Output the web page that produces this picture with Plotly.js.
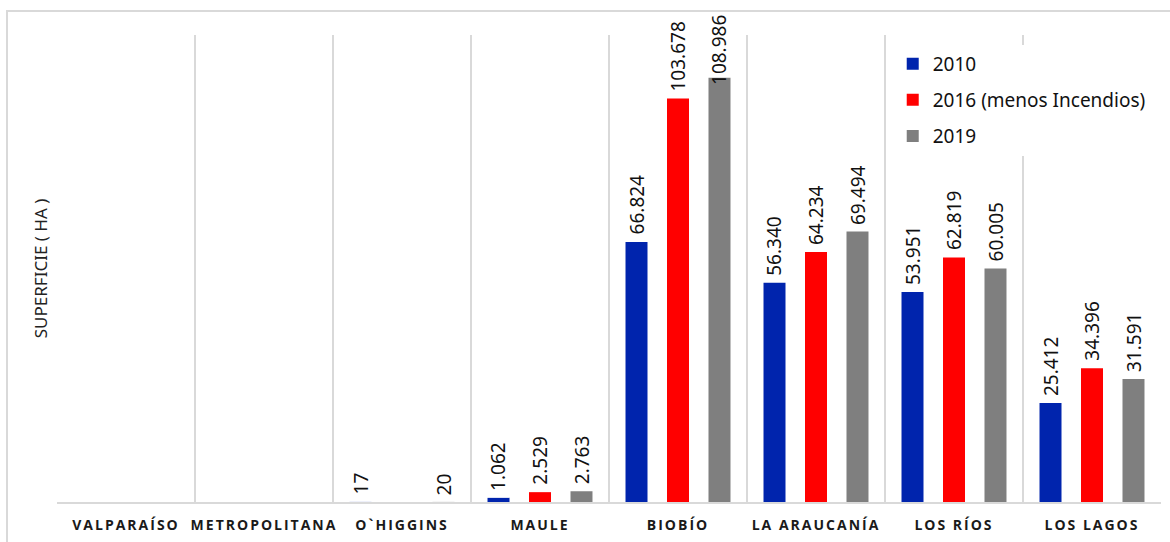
<!DOCTYPE html>
<html>
<head>
<meta charset="utf-8">
<script src="https://cdn.plot.ly/plotly-3.0.1.min.js"></script>
<style>
  html, body { margin: 0; padding: 0; background: #ffffff; overflow: hidden; }
  #chart { width: 1170px; height: 542px; position: absolute; left: 0; top: 0; }
  #frame { position: absolute; left: 6px; top: 10px; width: 1200px; height: 600px;
           border: 2px solid #d9d9d9; pointer-events: none; }
  .xtick text { letter-spacing: 2px; }
</style>
</head>
<body>
<div id="chart"></div>
<div id="frame"></div>
<script>
// Superficie por región (ha)
const regions = ["VALPARAÍSO", "METROPOLITANA", "O`HIGGINS", "MAULE", "BIOBÍO", "LA ARAUCANÍA", "LOS RÍOS", "LOS LAGOS"];
const sup2010 = [null, null, 17, 1062, 66824, 56340, 53951, 25412];
const sup2016 = [null, null, null, 2529, 103678, 64234, 62819, 34396];
const sup2019 = [null, null, 20, 2763, 108986, 69494, 60005, 31591];

const seriesNames = ["2010", "2016 (menos Incendios)", "2019"];
const seriesColors = ["#0024ad", "#ff0000", "#7f7f7f"];
const seriesValues = [sup2010, sup2016, sup2019];

const W = 1170, H = 542;
const MARGIN = { l: 57, r: 9, t: 35, b: 40 };
const Y_MAX = 120000;
const BARGAP = 0.098;
const labelFont = { family: "Noto Sans, Open Sans, sans-serif", size: 19, color: "#111111" };

const traces = seriesValues.map((vals, i) => ({
  type: "bar",
  name: seriesNames[i],
  x: regions,
  y: vals,
  marker: { color: seriesColors[i] },
  cliponaxis: false,
  legendgroup: "g" + i,
  hoverinfo: "x+y+name"
}));

// Rotated value labels above each bar, placed at the bar's slot within its group.
// A label that would run past the top of the frame is pulled down onto its bar.
const plotH = H - MARGIN.t - MARGIN.b;
const slot = (1 - BARGAP) / seriesValues.length;
const fmt = v => v.toString().replace(/\B(?=(\d{3})+(?!\d))/g, ".");
const annotations = [];
seriesValues.forEach((vals, i) => {
  const offset = (i - (seriesValues.length - 1) / 2) * slot;
  vals.forEach((v, j) => {
    if (v === null) return;
    const text = fmt(v);
    const estLen = text.length * 0.5 * labelFont.size + 6;
    const barPx = v / Y_MAX * plotH;
    const room = plotH + MARGIN.t - 14 - barPx - estLen;
    annotations.push({
      xref: "x", yref: "y",
      x: j + offset, y: v,
      text: text,
      textangle: -90,
      xanchor: "center", yanchor: "bottom",
      yshift: Math.min(5, room),
      showarrow: false,
      font: labelFont
    });
  });
});

const layout = {
  width: W,
  height: H,
  margin: MARGIN,
  paper_bgcolor: "rgba(0,0,0,0)",
  plot_bgcolor: "#ffffff",
  barmode: "group",
  bargap: BARGAP,
  bargroupgap: 0.47,
  showlegend: true,
  legend: {
    x: 0.757, xanchor: "left",
    y: 0.979, yanchor: "top",
    bgcolor: "#ffffff",
    font: { family: "Noto Sans, Open Sans, sans-serif", size: 19, color: "#111111" },
    tracegroupgap: 8.5,
    itemwidth: 30
  },
  annotations: annotations,
  xaxis: {
    type: "category",
    tickson: "boundaries",
    showgrid: true,
    gridcolor: "#d9d9d9",
    gridwidth: 1.5,
    showline: true,
    linecolor: "#d9d9d9",
    linewidth: 1.5,
    ticks: "",
    ticklabelstandoff: 10,
    tickfont: { family: "Open Sans, sans-serif", size: 14, weight: "bold", color: "#1a1a1a" },
    fixedrange: true
  },
  yaxis: {
    range: [0, Y_MAX],
    showgrid: false,
    zeroline: false,
    showticklabels: false,
    ticks: "",
    title: {
      text: "SUPERFICIE ( HA )",
      standoff: 4,
      font: { family: "Noto Sans, Open Sans, sans-serif", size: 17, color: "#222222" }
    },
    fixedrange: true
  }
};

Plotly.newPlot("chart", traces, layout, { displayModeBar: false, staticPlot: true });
</script>
</body>
</html>
